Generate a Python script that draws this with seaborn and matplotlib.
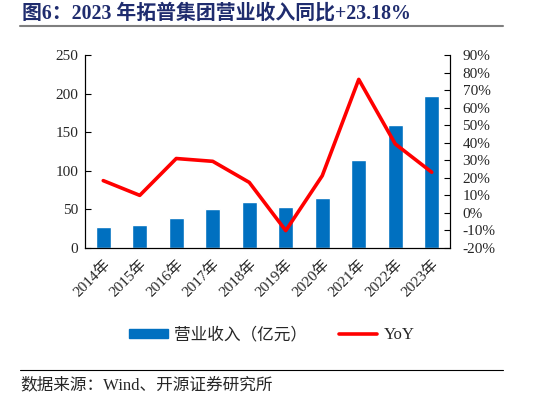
import seaborn as sns
import matplotlib.pyplot as plt
import matplotlib.ticker as mticker
import matplotlib.transforms as mtransforms
from matplotlib.patches import Patch
from matplotlib.lines import Line2D

# data
years = ["2014年", "2015年", "2016年", "2017年", "2018年",
         "2019年", "2020年", "2021年", "2022年", "2023年"]
revenue = [26.8, 30.0, 39.0, 50.6, 59.8, 53.6, 65.1, 114.6, 159.5, 197.0]
yoy = [18.4, 10.0, 31.0, 29.4, 17.4, -10.1, 21.2, 76.1, 39.3, 23.18]

sns.set_style("white")
plt.rcParams["font.family"] = ["Liberation Serif", "Noto Sans CJK SC"]
plt.rcParams["font.size"] = 11

fig = plt.figure(figsize=(5.5, 3.97), dpi=100)
ax = fig.add_axes([85 / 550, 1 - 248 / 397, 365 / 550, 193 / 397])

sns.barplot(x=years, y=revenue, ax=ax, color="#0070C0", width=0.4,
            saturation=1)
ax.set_ylim(0, 250)
ax.set_yticks(range(0, 251, 50))

ax2 = ax.twinx()
sns.pointplot(x=years, y=yoy, ax=ax2, color="#FF0000", markers="",
              linestyles="-", linewidth=2.6)
ax2.set_ylim(-20, 90)
ax2.set_yticks(range(-20, 91, 10))
ax2.yaxis.set_major_formatter(mticker.FuncFormatter(lambda v, p: f"{v:.0f}%"))

ax.set_xlim(-0.5, len(years) - 0.5)
ax.set_xticks([i - 0.5 for i in range(len(years) + 1)], minor=False)
ax.set_xticklabels([])
ax.set_xticks(range(len(years)), minor=True)
ax.set_xticklabels(years, minor=True, rotation=45, ha="right",
                   rotation_mode="anchor")
shift = mtransforms.ScaledTranslation(8 / 100, 0, fig.dpi_scale_trans)
for lab in ax.get_xticklabels(minor=True):
    lab.set_transform(lab.get_transform() + shift)
ax.tick_params(axis="x", which="major", direction="in", length=4, color="black")
ax.tick_params(axis="x", which="minor", length=0, pad=7)
ax.tick_params(axis="y", direction="in", length=4, left=True, color="black",
               pad=5)
ax2.tick_params(axis="y", direction="in", length=4, right=True, color="black",
                pad=9)
ax.set_xlabel("")
ax.set_ylabel("")
ax2.set_ylabel("")

for a in (ax, ax2):
    for side in ("left", "right", "bottom"):
        a.spines[side].set_visible(True)
        a.spines[side].set_color("black")
        a.spines[side].set_linewidth(0.8)
    a.spines["top"].set_visible(False)

handles = [Patch(color="#0070C0"), Line2D([0], [0], color="#FF0000", lw=2.6)]
fig.legend(handles, ["营业收入（亿元）", "YoY"], loc="center",
           bbox_to_anchor=(272 / 550, 1 - 335 / 397), ncol=2, frameon=False,
           handlelength=2.3, handleheight=0.45, handletextpad=0.4,
           columnspacing=1.9, fontsize=12)

# title and source
fig.text(22 / 550, 1 - 14 / 397, "图6：2023 年拓普集团营业收入同比+23.18%",
         fontsize=14.3, fontweight="bold", color="#1F2C6E", va="center")
fig.add_artist(Line2D([20 / 550, 503 / 550], [1 - 26 / 397, 1 - 26 / 397],
                      color="#7F7F7F", lw=1.5))
fig.add_artist(Line2D([20 / 550, 503 / 550], [1 - 370 / 397, 1 - 370 / 397],
                      color="#000000", lw=0.8))
fig.text(20 / 550, 1 - 385 / 397, "数据来源：Wind、开源证券研究所",
         fontsize=12, va="center")

fig.savefig("out.png", dpi=100)
